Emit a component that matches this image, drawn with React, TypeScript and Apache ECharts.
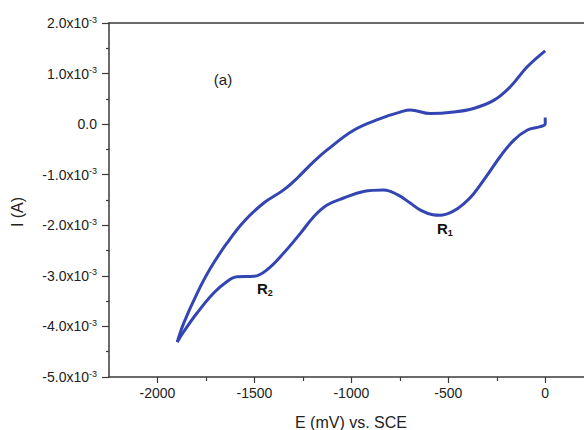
import React, { useEffect, useRef } from "react";
import * as echarts from "echarts";

// Cathodic scan (0 mV -> -1900 mV), current in units of 1e-3 A
const cathodicE = [0, 0, -26, -94, -163, -232, -301, -370, -422, -474, -541, -580, -644, -700, -760, -833, -937, -1040, -1125, -1194, -1263, -1349, -1435, -1503, -1589, -1641, -1710, -1795, -1864, -1898];
const cathodicI = [0.13, 0.01, -0.05, -0.12, -0.32, -0.64, -1.02, -1.38, -1.58, -1.72, -1.8, -1.79, -1.7, -1.55, -1.4, -1.3, -1.33, -1.46, -1.6, -1.83, -2.16, -2.55, -2.88, -3.01, -3.02, -3.11, -3.34, -3.73, -4.1, -4.31];

// Anodic return scan (-1900 mV -> 0 mV)
const anodicE = [-1898, -1864, -1795, -1727, -1641, -1555, -1452, -1349, -1280, -1194, -1125, -988, -851, -747, -696, -593, -473, -370, -266, -180, -94, 0];
const anodicI = [-4.31, -3.93, -3.34, -2.85, -2.35, -1.93, -1.56, -1.3, -1.07, -0.74, -0.51, -0.12, 0.11, 0.24, 0.28, 0.21, 0.24, 0.31, 0.47, 0.74, 1.13, 1.45];

const xMajorTicks = [-2000, -1500, -1000, -500, 0];
const xMinorTicks = [-1750, -1250, -750, -250];

const FONT = "'Liberation Sans', Arial, sans-serif";
const LINE = "#3345b3";
const AXIS = "#3a3a3a";

export default function App() {
  const ref = useRef<HTMLDivElement>(null);
  useEffect(() => {
    if (!ref.current) return;
    const chart = echarts.init(ref.current, null, { renderer: "svg" });
    const pair = (xs: number[], ys: number[]) => xs.map((x, i) => [x, ys[i]]);
    const subRich = (fs: number) => ({
      r: { fontSize: fs, lineHeight: 18, fontWeight: "bold", fill: "#111", fontFamily: FONT },
      s: { fontSize: 9, lineHeight: 10, verticalAlign: "bottom", fontWeight: "bold", fill: "#111", fontFamily: FONT },
    });
    chart.setOption({
      animation: false,
      backgroundColor: "#ffffff",
      textStyle: { fontFamily: FONT },
      grid: { left: 109, top: 23, right: 0, bottom: 53 },
      xAxis: [
        {
          type: "value",
          position: "bottom",
          min: -2250,
          max: 200,
          axisLine: { show: true, onZero: false, lineStyle: { color: AXIS, width: 1.5 } },
          axisTick: { show: true, length: 6, customValues: xMajorTicks, lineStyle: { color: AXIS, width: 1.2 } },
          axisLabel: {
            customValues: xMajorTicks,
            fontSize: 14,
            color: "#222",
            margin: 9,
            fontFamily: FONT,
            formatter: (v: number) => String(Math.round(v)),
          },
          splitLine: { show: false },
        },
        {
          type: "value",
          position: "bottom",
          min: -2250,
          max: 200,
          axisLine: { show: false, onZero: false },
          axisTick: { show: true, length: 4, customValues: xMinorTicks, lineStyle: { color: AXIS, width: 1.2 } },
          axisLabel: { show: false },
          splitLine: { show: false },
        },
        {
          type: "value",
          position: "top",
          min: -2250,
          max: 200,
          axisLine: { show: true, onZero: false, lineStyle: { color: AXIS, width: 1.5 } },
          axisTick: { show: false },
          axisLabel: { show: false },
          splitLine: { show: false },
        },
      ],
      yAxis: {
        type: "value",
        min: -5,
        max: 2,
        interval: 1,
        axisLine: { show: true, onZero: false, lineStyle: { color: AXIS, width: 1.5 } },
        axisTick: { show: true, length: 7, lineStyle: { color: AXIS, width: 1.2 } },
        minorTick: { show: true, splitNumber: 2, length: 3, lineStyle: { color: AXIS, width: 1.2 } },
        splitLine: { show: false },
        axisLabel: {
          margin: 12,
          formatter: (v: number) =>
            Math.abs(v) < 1e-9 ? "{n|0.0}" : `{n|${v.toFixed(1)}x10}{s|-3}`,
          rich: {
            n: { fontSize: 14, lineHeight: 16, color: "#222", fontFamily: FONT },
            s: { fontSize: 9, lineHeight: 10, verticalAlign: "top", color: "#222", fontFamily: FONT },
          },
        },
      },
      series: [
        {
          type: "line",
          data: pair(cathodicE, cathodicI),
          smooth: 0.4,
          symbol: "none",
          lineStyle: { color: LINE, width: 3 },
        },
        {
          type: "line",
          data: pair(anodicE, anodicI),
          smooth: 0.4,
          symbol: "none",
          lineStyle: { color: LINE, width: 3 },
        },
      ],
      graphic: [
        {
          type: "text",
          x: 351,
          y: 422,
          style: { text: "E (mV) vs. SCE", font: `16px ${FONT}`, fill: "#222", textAlign: "center", textVerticalAlign: "middle" },
        },
        {
          type: "text",
          x: 17,
          y: 212,
          rotation: Math.PI / 2,
          style: { text: "I (A)", font: `16px ${FONT}`, fill: "#222", textAlign: "center", textVerticalAlign: "middle" },
        },
        {
          type: "text",
          x: 223,
          y: 79,
          style: { text: "(a)", font: `15px ${FONT}`, fill: "#222", textAlign: "center", textVerticalAlign: "middle" },
        },
        {
          type: "text",
          x: 437,
          y: 219,
          style: { text: "{r|R}{s|1}", rich: subRich(15) },
        },
        {
          type: "text",
          x: 257,
          y: 279,
          style: { text: "{r|R}{s|2}", rich: subRich(15) },
        },
      ],
    });
    return () => chart.dispose();
  }, []);
  return <div ref={ref} style={{ width: 584, height: 430, position: "fixed", left: 0, top: 0 }} />;
}
